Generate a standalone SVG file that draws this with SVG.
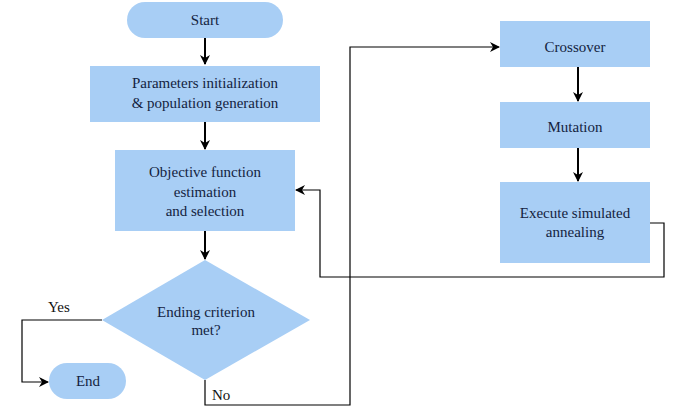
<svg xmlns="http://www.w3.org/2000/svg" width="686" height="413" viewBox="0 0 686 413">
<defs>
<marker id="ah" markerWidth="10" markerHeight="10" refX="9" refY="5" orient="auto" markerUnits="userSpaceOnUse">
<path d="M0,0 L10,5 L0,10 L3,5 Z" fill="#000"/>
</marker>
</defs>
<rect width="686" height="413" fill="#fff"/>
<g id="connectors" fill="none" stroke="#000">
<g stroke-width="2">
<line x1="205" y1="38" x2="205" y2="64" marker-end="url(#ah)"/>
<line x1="205" y1="122" x2="205" y2="149" marker-end="url(#ah)"/>
<line x1="205" y1="231" x2="205" y2="259" marker-end="url(#ah)"/>
<line x1="578" y1="67" x2="578" y2="101" marker-end="url(#ah)"/>
<line x1="578" y1="148" x2="578" y2="181" marker-end="url(#ah)"/>
</g>
<g stroke-width="1.2">
<polyline points="650,223 664,223 664,277 320,277 320,190 296,190" marker-end="url(#ah)"/>
<polyline points="205,380 205,405 350,405 350,47 499,47" marker-end="url(#ah)"/>
<polyline points="102,320 22,320 22,382 48,382" marker-end="url(#ah)"/>
</g>
</g>
<g fill="#A8CEF5">
<g id="start">
<rect x="127" y="2" width="156" height="36" rx="18"/>
</g>
<g id="params">
<rect x="90" y="66" width="230" height="56"/>
</g>
<g id="objective">
<rect x="115" y="150" width="180" height="81"/>
</g>
<g id="decision">
<polygon points="205,260 310,320 205,380 102,320"/>
</g>
<g id="end">
<rect x="49" y="363" width="77" height="36" rx="18"/>
</g>
<g id="crossover">
<rect x="500" y="21" width="150" height="46"/>
</g>
<g id="mutation">
<rect x="500" y="102" width="150" height="46"/>
</g>
<g id="annealing">
<rect x="500" y="182" width="150" height="81"/>
</g>
</g>
<text x="205" y="25" font-size="15" font-family="Liberation Serif" fill="#14233f" text-anchor="middle">Start</text>
<text x="205" y="88" font-size="15" font-family="Liberation Serif" fill="#14233f" text-anchor="middle">Parameters initialization</text>
<text x="205" y="108" font-size="15" font-family="Liberation Serif" fill="#14233f" text-anchor="middle">&amp; population generation</text>
<text x="205" y="177" font-size="15" font-family="Liberation Serif" fill="#14233f" text-anchor="middle">Objective function</text>
<text x="205" y="197" font-size="15" font-family="Liberation Serif" fill="#14233f" text-anchor="middle">estimation</text>
<text x="205" y="216" font-size="15" font-family="Liberation Serif" fill="#14233f" text-anchor="middle">and selection</text>
<text x="206" y="317" font-size="15" font-family="Liberation Serif" fill="#14233f" text-anchor="middle">Ending criterion</text>
<text x="206" y="335" font-size="15" font-family="Liberation Serif" fill="#14233f" text-anchor="middle">met?</text>
<text x="88" y="386" font-size="15" font-family="Liberation Serif" fill="#14233f" text-anchor="middle">End</text>
<text x="575" y="52" font-size="15" font-family="Liberation Serif" fill="#14233f" text-anchor="middle">Crossover</text>
<text x="575" y="132" font-size="15" font-family="Liberation Serif" fill="#14233f" text-anchor="middle">Mutation</text>
<text x="575" y="218" font-size="15" font-family="Liberation Serif" fill="#14233f" text-anchor="middle">Execute simulated</text>
<text x="575" y="237" font-size="15" font-family="Liberation Serif" fill="#14233f" text-anchor="middle">annealing</text>
<text x="48" y="312" font-size="15" font-family="Liberation Serif" fill="#111">Yes</text>
<text x="212" y="400" font-size="15" font-family="Liberation Serif" fill="#111">No</text>
</svg>
